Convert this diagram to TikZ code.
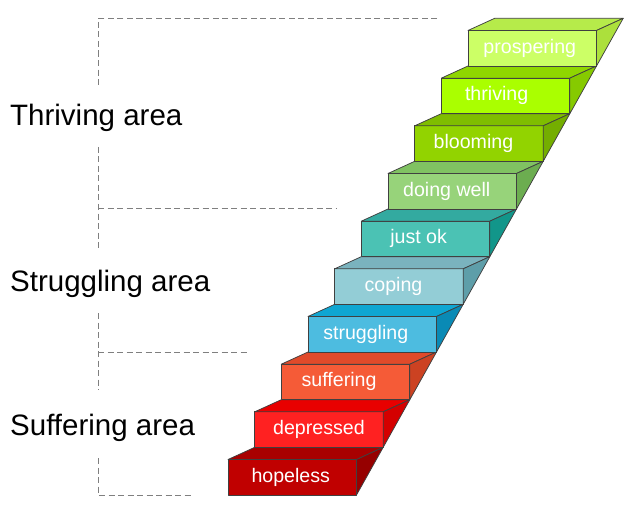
\documentclass[tikz,border=0pt]{standalone}
\usepackage{fontspec}
\setmainfont{Liberation Sans}
\definecolor{edgec}{HTML}{404040}
\definecolor{dashc}{HTML}{7F7F7F}
\definecolor{fc0}{HTML}{C00000}\definecolor{tc0}{HTML}{A80000}\definecolor{sc0}{HTML}{960000}
\definecolor{fc1}{HTML}{FF2121}\definecolor{tc1}{HTML}{E80000}\definecolor{sc1}{HTML}{D40000}
\definecolor{fc2}{HTML}{F55B37}\definecolor{tc2}{HTML}{E04A2A}\definecolor{sc2}{HTML}{CC4222}
\definecolor{fc3}{HTML}{4DBCE0}\definecolor{tc3}{HTML}{0FA6D2}\definecolor{sc3}{HTML}{0A8AB5}
\definecolor{fc4}{HTML}{93CDD6}\definecolor{tc4}{HTML}{7AB3BE}\definecolor{sc4}{HTML}{5E9EA9}
\definecolor{fc5}{HTML}{4BC2B4}\definecolor{tc5}{HTML}{33AAA0}\definecolor{sc5}{HTML}{12968A}
\definecolor{fc6}{HTML}{97D37A}\definecolor{tc6}{HTML}{80C262}\definecolor{sc6}{HTML}{6CAD50}
\definecolor{fc7}{HTML}{92D300}\definecolor{tc7}{HTML}{7FBD00}\definecolor{sc7}{HTML}{74AE00}
\definecolor{fc8}{HTML}{AAFF00}\definecolor{tc8}{HTML}{8FD600}\definecolor{sc8}{HTML}{86CA00}
\definecolor{fc9}{HTML}{CCFF66}\definecolor{tc9}{HTML}{B6EB4A}\definecolor{sc9}{HTML}{ACE03C}
\begin{document}
\begin{tikzpicture}[x=1bp,y=-1bp,
  stepbox/.style={draw=edgec, line width=0.75bp, line join=round,
    minimum width=128.5bp, minimum height=35.5bp, inner sep=0pt, outer sep=0pt,
    text=white, font=\fontsize{19.6bp}{22bp}\selectfont,
    text height=14.1bp, text depth=4.1bp, anchor=south west},
  face/.style={draw=edgec, line width=0.75bp, line join=round},
  bracket/.style={draw=dashc, line width=1bp, dash pattern=on 6bp off 3.5bp},
  area/.style={font=\fontsize{29.5bp}{32bp}\selectfont, anchor=base west, inner sep=0pt}]
\useasboundingbox (0,0) rectangle (631,507);
% dashed brackets
\draw[bracket] (437,19) -- (98,19) -- (98,85);
\draw[bracket] (98,147) -- (98,250);
\draw[bracket] (98,209) -- (337,209);
\draw[bracket] (98,313) -- (98,390);
\draw[bracket] (98,352) -- (250,352);
\draw[bracket] (98,458) -- (98,495) -- (192,495);
% area labels
\node[area] (thr) at (10,126) {Thriving area};
\node[area] (str) at (10,291) {Struggling area};
\node[area] (suf) at (10,435) {Suffering area};
% steps
\foreach \i/\t/\k in {0/hopeless/3,1/depressed/0,2/suffering/13,3/struggling/13,4/coping/11,5/just ok/14,6/doing well/11,7/blooming/11,8/thriving/18,9/prospering/5}{
  \node[stepbox, fill=fc\i] (b\i) at ({228+26.67*\i},{495-47.67*\i}) {\hspace*{-\k bp}\t};
  \path[face, fill=tc\i] (b\i.north west) -- (b\i.north east) -- ++(26.67,-12.17) -- ++(-128.5,0) -- cycle;
  \path[face, fill=sc\i] (b\i.north east) -- ++(26.67,-12.17) -- (b\i.south east) -- cycle;
}
\end{tikzpicture}
\end{document}
